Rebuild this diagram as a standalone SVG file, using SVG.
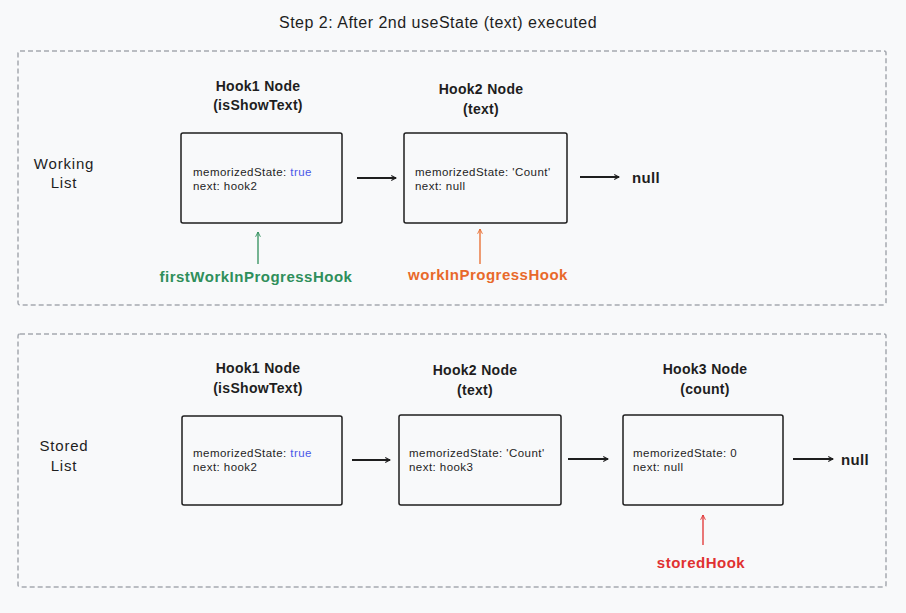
<svg xmlns="http://www.w3.org/2000/svg" width="906" height="613" viewBox="0 0 906 613">
<defs>
<style>
text{font-family:"Liberation Sans",Arial,sans-serif;fill:#1e1e1e}
.title{font-size:16px;text-anchor:middle;letter-spacing:0.5px}
.hd{font-size:14px;text-anchor:middle;font-weight:bold;letter-spacing:0.3px}
.ptr{font-size:15px;text-anchor:middle;font-weight:bold;letter-spacing:0.5px}
.lbl{font-size:15px;text-anchor:middle;letter-spacing:0.8px}
.bt{font-size:11.5px;letter-spacing:0.45px}
.box{fill:none;stroke:#1e1e1e;stroke-width:1.5}
.grp{fill:none;stroke:#a5a9b0;stroke-width:1.5;stroke-dasharray:5 3}
.edge{fill:none;stroke:#1e1e1e;stroke-width:2}
.blue{fill:#4a57e8}
</style>
<marker id="ah" viewBox="0 0 10 10" refX="9" refY="5" markerWidth="6" markerHeight="6" orient="auto" markerUnits="userSpaceOnUse"><path d="M1,1 L9,5 L1,9" fill="none" stroke="#1e1e1e" stroke-width="1.8"/></marker>
<marker id="ahg" viewBox="0 0 10 10" refX="9" refY="5" markerWidth="6" markerHeight="6" orient="auto" markerUnits="userSpaceOnUse"><path d="M1,1 L9,5 L1,9" fill="none" stroke="#2f8f5b" stroke-width="1.5"/></marker>
<marker id="aho" viewBox="0 0 10 10" refX="9" refY="5" markerWidth="6" markerHeight="6" orient="auto" markerUnits="userSpaceOnUse"><path d="M1,1 L9,5 L1,9" fill="none" stroke="#e8692a" stroke-width="1.5"/></marker>
<marker id="ahr" viewBox="0 0 10 10" refX="9" refY="5" markerWidth="6" markerHeight="6" orient="auto" markerUnits="userSpaceOnUse"><path d="M1,1 L9,5 L1,9" fill="none" stroke="#e03131" stroke-width="1.5"/></marker>
</defs>
<rect width="906" height="613" fill="#f8f9fa"/>
<text class="title" x="438" y="28">Step 2: After 2nd useState (text) executed</text>

<g id="working-list">
<rect class="grp" x="18" y="51" width="868" height="254" rx="2"/>
<text class="lbl" x="64" y="169">Working</text>
<text class="lbl" x="64" y="188">List</text>
</g>
<g id="stored-list">
<rect class="grp" x="18" y="334" width="868" height="253" rx="2"/>
<text class="lbl" x="64" y="451">Stored</text>
<text class="lbl" x="64" y="471">List</text>
</g>

<g id="w-hook1">
<text class="hd" x="258" y="91">Hook1 Node</text>
<text class="hd" x="258" y="110">(isShowText)</text>
<rect class="box" x="181" y="133" width="161" height="90" rx="2"/>
<text class="bt" x="193" y="176">memorizedState: <tspan class="blue">true</tspan></text>
<text class="bt" x="193" y="190">next: hook2</text>
</g>
<g id="w-hook2">
<text class="hd" x="481" y="94">Hook2 Node</text>
<text class="hd" x="481" y="114">(text)</text>
<rect class="box" x="404" y="133" width="163" height="90" rx="2"/>
<text class="bt" x="415" y="176">memorizedState: 'Count'</text>
<text class="bt" x="415" y="190">next: null</text>
</g>
<g id="w-null">
<text class="hd" x="646" y="183" style="font-size:15px">null</text>
</g>
<g id="w-first">
<text class="ptr" x="256" y="282" style="fill:#2f8f5b">firstWorkInProgressHook</text>
</g>
<g id="w-wip">
<text class="ptr" x="488" y="280" style="fill:#e8692a">workInProgressHook</text>
</g>

<g id="s-hook1">
<text class="hd" x="258" y="373">Hook1 Node</text>
<text class="hd" x="258" y="393">(isShowText)</text>
<rect class="box" x="182" y="416" width="160" height="89" rx="2"/>
<text class="bt" x="193" y="457">memorizedState:  <tspan class="blue">true</tspan></text>
<text class="bt" x="193" y="471">next: hook2</text>
</g>
<g id="s-hook2">
<text class="hd" x="475" y="375">Hook2 Node</text>
<text class="hd" x="475" y="395">(text)</text>
<rect class="box" x="399" y="415" width="162" height="90" rx="2"/>
<text class="bt" x="409" y="457">memorizedState: 'Count'</text>
<text class="bt" x="409" y="471">next: hook3</text>
</g>
<g id="s-hook3">
<text class="hd" x="705" y="374">Hook3 Node</text>
<text class="hd" x="705" y="394">(count)</text>
<rect class="box" x="623" y="415" width="160" height="90" rx="2"/>
<text class="bt" x="633" y="457">memorizedState: 0</text>
<text class="bt" x="633" y="471">next: null</text>
</g>
<g id="s-null">
<text class="hd" x="855" y="465" style="font-size:15px">null</text>
</g>
<g id="s-stored">
<text class="ptr" x="701" y="568" style="fill:#e03131">storedHook</text>
</g>

<g id="connectors">
<line class="edge" x1="357" y1="178" x2="396" y2="178" marker-end="url(#ah)"/>
<line class="edge" x1="580" y1="177" x2="619" y2="177" marker-end="url(#ah)"/>
<line x1="258" y1="264" x2="258" y2="232" stroke="#2f8f5b" stroke-width="1.3" marker-end="url(#ahg)"/>
<line x1="480" y1="264" x2="480" y2="229" stroke="#e8692a" stroke-width="1.3" marker-end="url(#aho)"/>
<line class="edge" x1="352" y1="460" x2="390" y2="460" marker-end="url(#ah)"/>
<line class="edge" x1="568" y1="459" x2="608" y2="459" marker-end="url(#ah)"/>
<line class="edge" x1="793" y1="459" x2="833" y2="459" marker-end="url(#ah)"/>
<line x1="703" y1="545" x2="703" y2="515" stroke="#e03131" stroke-width="1.3" marker-end="url(#ahr)"/>
</g>
</svg>
